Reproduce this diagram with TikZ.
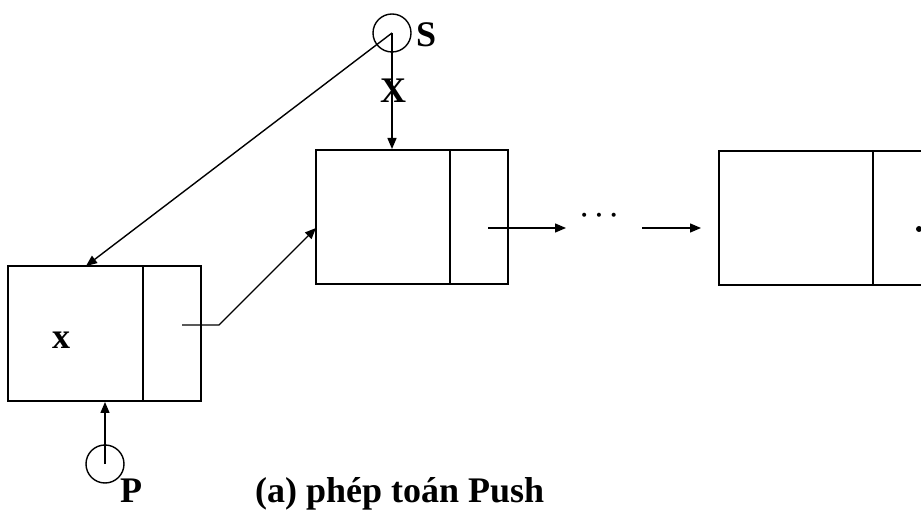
\documentclass[tikz,border=0pt]{standalone}
\usepackage{fontspec}
\setmainfont{Liberation Serif}
\usetikzlibrary{arrows.meta}
\begin{document}
\begin{tikzpicture}[x=1pt,y=-1pt,
  boxline/.style={line width=2pt},
  conn/.style={line width=1.4pt},
  arr/.style={conn,-{Triangle[length=11pt,width=9pt]}},
  lbl/.style={font=\fontsize{36}{40}\selectfont\bfseries,inner sep=0pt},
  ptr/.style={circle,draw,line width=1.4pt,minimum size=38pt,inner sep=0pt}]
\useasboundingbox (0,0) rectangle (921,510);
\begin{scope}
\clip (0,0) rectangle (921,510);
% boxes
\draw[boxline] (8,266) rectangle (201,401);
\draw[boxline] (143,266) -- (143,401);
\draw[boxline] (316,150) rectangle (508,284);
\draw[boxline] (450,150) -- (450,284);
\draw[boxline] (719,151) rectangle (940,285);
\draw[boxline] (873,151) -- (873,285);
\fill (919,229) circle (3pt);
\end{scope}
% named anchors
\coordinate (b1top) at (86,266);
\coordinate (b1bot) at (105,402);
\coordinate (b1ptr) at (182,325);
\coordinate (bend) at (219,325);
\coordinate (b2left) at (316,228);
\coordinate (b2top) at (392,149);
\coordinate (b2ptr) at (488,228);
\coordinate (a1end) at (566,228);
\coordinate (a2start) at (642,228);
\coordinate (b3left) at (701,228);
% pointer circles
\node[ptr] (S) at (392,33) {};
\node[lbl,anchor=base west] (Slbl) at (416,47) {S};
\node[ptr] (P) at (105,464) {};
\node[lbl,anchor=base west] (Plbl) at (120,502) {P};
% labels
\node[lbl] (X) at (393,91) {X};
\node[lbl] (xv) at (61,340) {x};
\node[font=\fontsize{34}{38}\selectfont,inner sep=0pt,anchor=base] (dots) at (599,227) {·\hspace{3.5pt}·\hspace{3.5pt}·};
\node[lbl,anchor=base west] (cap) at (255,502) {(a) phép toán Push};
% connectors
\draw[arr] (S.center) -- (b2top);
\draw[arr] (S.center) -- (b1top);
\draw[arr] (P.center) -- (b1bot);
\draw[arr] (b1ptr) -- (bend) -- (b2left);
\draw[arr] (b2ptr) -- (a1end);
\draw[arr] (a2start) -- (b3left);
\end{tikzpicture}
\end{document}
